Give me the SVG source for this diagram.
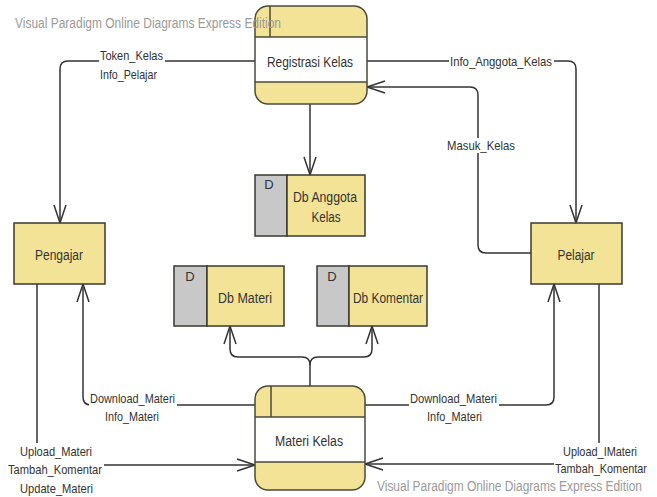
<svg xmlns="http://www.w3.org/2000/svg" width="657" height="497" viewBox="0 0 657 497">
<style>
.proc-y{fill:#F3E396;stroke:none}
.outline{fill:none;stroke:#4a4a3a;stroke-width:1.5}
.ent{fill:#F3E396;stroke:#3a3a30;stroke-width:1.5}
.dpart{fill:#C8C8C8;stroke:#3a3a30;stroke-width:1.5}
.dbody{fill:#F3E396;stroke:#3a3a30;stroke-width:1.5}
.t{font-family:"Liberation Sans",Arial,sans-serif;fill:#333;text-anchor:middle}
.node{font-size:14px}
.lbl{font-size:13px}
.wm{font-family:"Liberation Sans",Arial,sans-serif;font-size:14px;fill:#9a9a9a}
.flow{fill:none;stroke:#333;stroke-width:1.5;marker-end:url(#arr)}
.bg{fill:#fff}
</style>
<defs>
<marker id="arr" markerUnits="userSpaceOnUse" markerWidth="24" markerHeight="16" viewBox="-20 -8 22 16" refX="0" refY="0" orient="auto" overflow="visible">
<path d="M-18,-6 L0,0 L-18,6" fill="none" stroke="#333" stroke-width="1.5"/>
</marker>
</defs>
<rect width="657" height="497" fill="#fff"/>

<g id="connectors">
<path id="c1" class="flow" d="M255,61 H68 Q60,61 60,69 V223"/>
<path id="c2" class="flow" d="M367,61 H568 Q576,61 576,69 V223"/>
<path id="c3" class="flow" d="M531,253 H486 Q478,253 478,245 V95 Q478,87 470,87 H367"/>
<path id="c4" class="flow" d="M310,104 V175"/>
<path id="c5" class="flow" d="M310,386 V365 Q310,357 302,357 H238 Q230,357 230,349 V326"/>
<path id="c6" class="flow" d="M310,365 Q310,357 318,357 H364 Q372,357 372,349 V326"/>
<path id="c7" class="flow" d="M255,405 H91 Q83,405 83,397 V284"/>
<path id="c8" class="flow" d="M365,405 H546 Q554,405 554,397 V284"/>
<path id="c9" class="flow" d="M37,284 V465 H255"/>
<path id="c10" class="flow" d="M599,284 V464 H365"/>

<rect class="bg" x="99" y="48" width="66" height="34"/>
<text class="t lbl" x="131.5" y="60" textLength="63" lengthAdjust="spacingAndGlyphs">Token_Kelas</text>
<text class="t lbl" x="128.5" y="79" textLength="57" lengthAdjust="spacingAndGlyphs">Info_Pelajar</text>

<rect class="bg" x="449" y="55" width="105" height="15"/>
<text class="t lbl" x="501" y="66" textLength="102" lengthAdjust="spacingAndGlyphs">Info_Anggota_Kelas</text>

<rect class="bg" x="446" y="138" width="70" height="15"/>
<text class="t lbl" x="481" y="150" textLength="68" lengthAdjust="spacingAndGlyphs">Masuk_Kelas</text>

<rect class="bg" x="89" y="390" width="88" height="35"/>
<text class="t lbl" x="132.5" y="403" textLength="85" lengthAdjust="spacingAndGlyphs">Download_Materi</text>
<text class="t lbl" x="132" y="421" textLength="54" lengthAdjust="spacingAndGlyphs">Info_Materi</text>

<rect class="bg" x="409" y="390" width="90" height="35"/>
<text class="t lbl" x="453.5" y="403" textLength="87" lengthAdjust="spacingAndGlyphs">Download_Materi</text>
<text class="t lbl" x="454.5" y="421" textLength="55" lengthAdjust="spacingAndGlyphs">Info_Materi</text>

<rect class="bg" x="7" y="443" width="97" height="54"/>
<text class="t lbl" x="56" y="456" textLength="72" lengthAdjust="spacingAndGlyphs">Upload_Materi</text>
<text class="t lbl" x="55" y="474" textLength="94" lengthAdjust="spacingAndGlyphs">Tambah_Komentar</text>
<text class="t lbl" x="56.5" y="493" textLength="73" lengthAdjust="spacingAndGlyphs">Update_Materi</text>

<rect class="bg" x="554" y="443" width="95" height="32"/>
<text class="t lbl" x="600" y="456" textLength="74" lengthAdjust="spacingAndGlyphs">Upload_IMateri</text>
<text class="t lbl" x="601" y="473" textLength="92" lengthAdjust="spacingAndGlyphs">Tambah_Komentar</text>
</g>

<g id="registrasi-kelas">
<rect class="proc-y" x="255" y="6" width="112" height="98" rx="13"/>
<rect x="255" y="37" width="112" height="45" fill="#fff"/>
<rect class="outline" x="255" y="6" width="112" height="98" rx="13"/>
<path class="outline" d="M255,37 H367 M255,82 H367 M270,6 V37"/>
<text class="t node" x="310" y="67" textLength="86" lengthAdjust="spacingAndGlyphs">Registrasi Kelas</text>
</g>

<g id="materi-kelas">
<rect class="proc-y" x="255" y="386" width="110" height="104" rx="13"/>
<rect x="255" y="417" width="110" height="45" fill="#fff"/>
<rect class="outline" x="255" y="386" width="110" height="104" rx="13"/>
<path class="outline" d="M255,417 H365 M255,462 H365 M271,386 V417"/>
<text class="t node" x="309" y="446" textLength="68" lengthAdjust="spacingAndGlyphs">Materi Kelas</text>
</g>

<g id="pengajar">
<rect class="ent" x="14" y="223" width="91" height="61"/>
<text class="t node" x="59" y="260" textLength="48" lengthAdjust="spacingAndGlyphs">Pengajar</text>
</g>

<g id="pelajar">
<rect class="ent" x="531" y="223" width="91" height="61"/>
<text class="t node" x="576" y="260" textLength="37" lengthAdjust="spacingAndGlyphs">Pelajar</text>
</g>

<g id="db-anggota-kelas">
<rect class="dpart" x="255" y="175" width="32" height="61"/>
<rect class="dbody" x="287" y="175" width="78" height="61"/>
<text class="t lbl" x="269" y="189">D</text>
<text class="t node" x="325" y="202" textLength="64" lengthAdjust="spacingAndGlyphs">Db Anggota</text>
<text class="t node" x="326" y="222" textLength="29" lengthAdjust="spacingAndGlyphs">Kelas</text>
</g>

<g id="db-materi">
<rect class="dpart" x="174" y="266" width="33" height="60"/>
<rect class="dbody" x="207" y="266" width="77" height="60"/>
<text class="t lbl" x="190" y="281">D</text>
<text class="t node" x="245" y="303" textLength="54" lengthAdjust="spacingAndGlyphs">Db Materi</text>
</g>

<g id="db-komentar">
<rect class="dpart" x="317" y="266" width="32" height="60"/>
<rect class="dbody" x="349" y="266" width="78" height="60"/>
<text class="t lbl" x="332" y="281">D</text>
<text class="t node" x="388" y="303" textLength="70" lengthAdjust="spacingAndGlyphs">Db Komentar</text>
</g>

<text class="wm" x="15" y="28" textLength="266" lengthAdjust="spacingAndGlyphs">Visual Paradigm Online Diagrams Express Edition</text>
<text class="wm" x="377" y="491" textLength="265" lengthAdjust="spacingAndGlyphs">Visual Paradigm Online Diagrams Express Edition</text>
</svg>
